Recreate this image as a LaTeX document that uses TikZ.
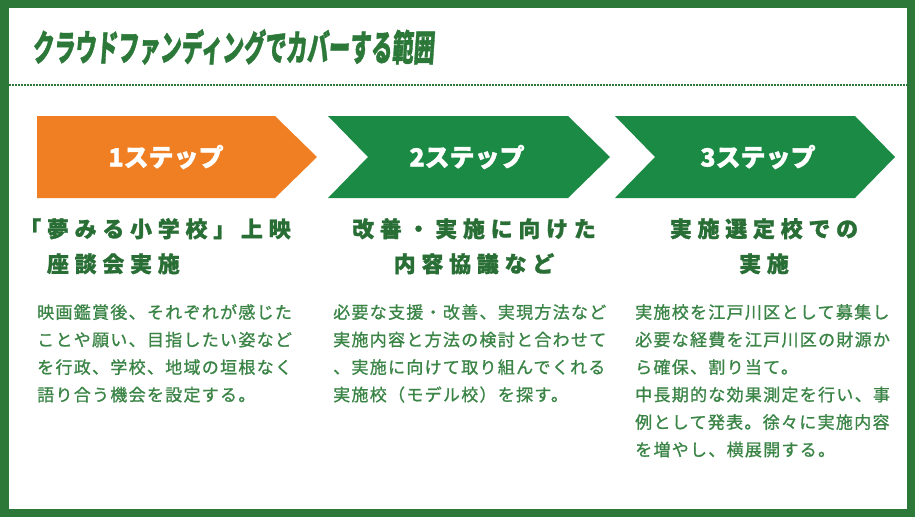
\documentclass[tikz,border=0pt]{standalone}
\usepackage{fontspec}
\setmainfont{Noto Sans CJK JP}
\usepackage{tikz}
\usetikzlibrary{positioning, calc}
\definecolor{frameGreen}{HTML}{2B7838}
\definecolor{arrowGreen}{HTML}{1B8A44}
\definecolor{stepOrange}{HTML}{F07F24}
\definecolor{headGreen}{HTML}{286E35}
\definecolor{bodyGreen}{HTML}{3A8446}

\begin{document}
\begin{tikzpicture}[
    x=1pt, y=-1pt,
    titletext/.style={font={\fontsize{36}{40}\selectfont\bfseries\addfontfeature{FakeSlant=0.12,FakeBold=1.5}},
                      text=frameGreen, inner sep=0pt},
    steplabel/.style={font={\fontsize{25}{30}\selectfont\bfseries\addfontfeature{FakeBold=1.5}},
                      text=white, inner sep=0pt},
    heading/.style={font={\fontsize{22}{35}\selectfont\bfseries\addfontfeature{LetterSpace=26,FakeBold=1.2}},
                    text=headGreen, inner sep=0pt, anchor=north},
    bodytext/.style={font={\fontsize{17}{27.5}\selectfont\addfontfeature{LetterSpace=7.6,FakeBold=1}},
                     text=bodyGreen, align=left, inner sep=0pt, anchor=north west}
  ]
    % frame
    \fill[frameGreen] (0,0) rectangle (915,517);
    \fill[white] (9,8) rectangle (907,509);
    \useasboundingbox (0,0) rectangle (915,517);

    \node[titletext, anchor=west] (title) at (32,47)
      {\scalebox{0.59}[1]{クラウドファンディングでカバーする範囲}};
    \coordinate (dl) at (9,85);
    \coordinate (dr) at (907,85);
    \draw[frameGreen, line width=1.6pt, dash pattern=on 1.6pt off 1.4pt] (dl) -- (dr);

    % step arrows
    \fill[stepOrange] (37,116) -- (275,116) -- (317,157) -- (275,198) -- (37,198) -- cycle;
    \fill[arrowGreen] (328,116) -- (568,116) -- (610,157) -- (568,198) -- (328,198)
      -- (368,157) -- cycle;
    \fill[arrowGreen] (615,116) -- (855,116) -- (895,157) -- (855,198) -- (615,198)
      -- (655,157) -- cycle;
    \node[steplabel] (s1) at (166,157) {1ステップ};
    \node[steplabel] (s2) at (467,157) {2ステップ};
    \node[steplabel] (s3) at (758,157) {3ステップ};

    % headings
    \node[heading, anchor=north west, align=left] (h1) at (19,218)
      {「夢みる小学校」上映\\　座談会実施};
    \node[heading, align=center] (h2) at (474,218) {改善・実施に向けた\\内容協議など};
    \node[heading, align=center] (h3) at (764,218) {実施選定校での\\実施};

    % descriptions
    \node[bodytext] (b1) at (37,304)
      {映画鑑賞後、それぞれが感じた\\ことや願い、目指したい姿など\\を行政、学校、地域の垣根なく\\語り合う機会を設定する。};
    \node[bodytext] (b2) at (333,304)
      {必要な支援・改善、実現方法など\\実施内容と方法の検討と合わせて\\、実施に向けて取り組んでくれる\\実施校（モデル校）を探す。};
    \node[bodytext] (b3) at (635,304)
      {実施校を江戸川区として募集し\\必要な経費を江戸川区の財源か\\ら確保、割り当て。\\中長期的な効果測定を行い、事\\例として発表。徐々に実施内容\\を増やし、横展開する。};
  \end{tikzpicture}
\end{document}
